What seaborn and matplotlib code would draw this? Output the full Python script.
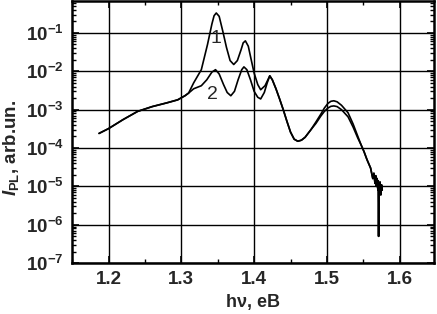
import seaborn as sns
import matplotlib
matplotlib.use("Agg")
import matplotlib.pyplot as plt
from matplotlib.ticker import LogLocator, MultipleLocator, NullFormatter
import pandas as pd

# photon energy, eV, and PL intensity, arb. units
x_common_start = [1.187, 1.20, 1.22, 1.24, 1.26, 1.28, 1.295, 1.305, 1.31]
y_common_start = [2.4e-4, 3.2e-4, 5.5e-4, 9.0e-4, 1.2e-3, 1.5e-3, 1.8e-3, 2.3e-3, 2.7e-3]

x_mid1 = [1.317, 1.3275, 1.336, 1.342, 1.345, 1.348, 1.352, 1.357, 1.362,
          1.367, 1.372, 1.377, 1.382, 1.385, 1.388, 1.392, 1.396, 1.400,
          1.405, 1.409, 1.415, 1.4215]
y_mid1 = [5.0e-3, 1.1e-2, 5.0e-2, 0.17, 0.28, 0.33, 0.27, 0.11, 0.042,
          0.019, 0.015, 0.019, 0.036, 0.055, 0.062, 0.045, 0.02, 0.009,
          0.0045, 0.0033, 0.0042, 0.0076]

x_mid2 = [1.317, 1.3275, 1.335, 1.342, 1.347, 1.352, 1.358, 1.363, 1.368,
          1.373, 1.378, 1.383, 1.386, 1.390, 1.395, 1.400, 1.405, 1.409,
          1.414, 1.418, 1.4215]
y_mid2 = [3.5e-3, 4.2e-3, 6.0e-3, 9.5e-3, 1.1e-2, 8.5e-3, 4.5e-3, 2.8e-3, 2.3e-3,
          3.0e-3, 6.0e-3, 1.1e-2, 1.3e-2, 1.1e-2, 6.0e-3, 3.0e-3, 2.1e-3, 1.9e-3,
          2.8e-3, 5.0e-3, 7.6e-3]

x_dip = [1.425, 1.43, 1.435, 1.44, 1.445, 1.45, 1.455, 1.46, 1.465, 1.47, 1.478]
y_dip = [6.0e-3, 3.5e-3, 1.9e-3, 1.0e-3, 5.0e-4, 2.6e-4, 1.7e-4, 1.5e-4, 1.6e-4, 1.9e-4, 3.0e-4]

x_peak = [1.485, 1.4916, 1.4965, 1.5013, 1.5055, 1.5095, 1.514, 1.52, 1.529, 1.536, 1.5425]
y_peak1 = [4.8e-4, 7.6e-4, 1.1e-3, 1.45e-3, 1.65e-3, 1.7e-3, 1.6e-3, 1.3e-3, 8.3e-4, 4.2e-4, 2.0e-4]
y_peak2 = [4.4e-4, 6.8e-4, 9.0e-4, 1.1e-3, 1.22e-3, 1.25e-3, 1.2e-3, 1.0e-3, 6.5e-4, 3.5e-4, 1.8e-4]

x_tail = [1.547, 1.551, 1.555, 1.560, 1.563, 1.5645, 1.566, 1.567, 1.568, 1.569,
          1.570, 1.5705, 1.571, 1.5715, 1.572, 1.573, 1.574, 1.575, 1.576]
y_tail = [1.2e-4, 8.0e-5, 5.0e-5, 3.0e-5, 1.6e-5, 2.2e-5, 1.2e-5, 1.9e-5, 1.0e-5, 1.6e-5,
          8.0e-6, 1.4e-5, 5.0e-7, 1.2e-5, 7.0e-6, 1.3e-5, 6.0e-6, 1.1e-5, 8.0e-6]

curve1 = pd.DataFrame({
    "E": x_common_start + x_mid1 + x_dip + x_peak + x_tail,
    "I": y_common_start + y_mid1 + y_dip + y_peak1 + y_tail,
})
curve2 = pd.DataFrame({
    "E": x_common_start + x_mid2 + x_dip + x_peak + x_tail,
    "I": y_common_start + y_mid2 + y_dip + y_peak2 + y_tail,
})

sns.set_style("ticks")
plt.rcParams["font.family"] = ["Liberation Sans", "DejaVu Sans"]
plt.rcParams["mathtext.fontset"] = "custom"
plt.rcParams["mathtext.rm"] = "Liberation Sans:bold"
plt.rcParams["mathtext.it"] = "Liberation Sans:bold:italic"
plt.rcParams["mathtext.bf"] = "Liberation Sans:bold"

fig = plt.figure(figsize=(4.37, 3.14), dpi=100)
ax = fig.add_axes([0.165, 0.162, 0.828, 0.835])

sns.lineplot(data=curve1, x="E", y="I", sort=False, estimator=None,
             color="black", linewidth=1.2, ax=ax)
sns.lineplot(data=curve2, x="E", y="I", sort=False, estimator=None,
             color="black", linewidth=1.2, ax=ax)

ax.set_yscale("log")
ax.set_xlim(1.15, 1.647)
ax.set_ylim(1e-7, 0.68)

ax.xaxis.set_major_locator(MultipleLocator(0.1))
ax.xaxis.set_minor_locator(MultipleLocator(0.05))
ax.yaxis.set_major_locator(LogLocator(base=10, numticks=10))
ax.yaxis.set_minor_locator(LogLocator(base=10, subs=range(2, 10), numticks=10))
ax.yaxis.set_minor_formatter(NullFormatter())

ax.grid(True, which="major", color="black", linewidth=1.0)
ax.tick_params(which="both", direction="in", top=True, right=True,
               labelsize=13.5, color="black")
ax.tick_params(which="major", length=5, width=1.2, pad=6)
ax.tick_params(which="minor", length=3, width=1.0)
for lab in ax.get_xticklabels() + ax.get_yticklabels():
    lab.set_fontweight("bold")
for sp in ax.spines.values():
    sp.set_linewidth(1.8)
    sp.set_color("black")

ax.set_xlabel("h\u03bd, eB", fontsize=13, fontweight="bold", labelpad=4)
ax.set_ylabel(r"$I_{\rm PL}$, arb.un.", fontsize=13.5, fontweight="bold")
ax.yaxis.set_label_coords(-0.14, 0.44)

ax.text(1.3475, 0.07, "1", fontsize=14, ha="center", va="center")
ax.text(1.343, 2.5e-3, "2", fontsize=14, ha="center", va="center")

fig.savefig("out.png", dpi=100)
